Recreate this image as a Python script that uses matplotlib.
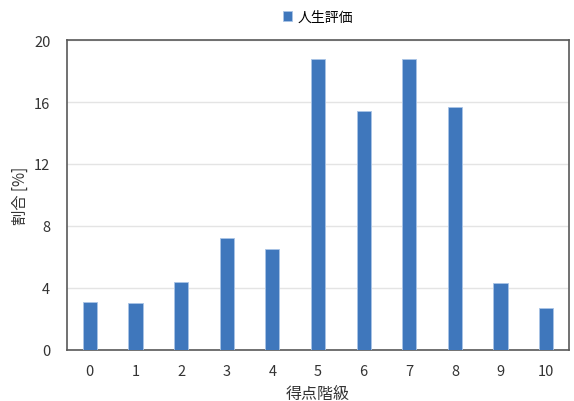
import matplotlib
matplotlib.use("Agg")
import matplotlib.pyplot as plt

plt.rcParams['font.family'] = ['Noto Sans CJK JP', 'DejaVu Sans']

categories = [0, 1, 2, 3, 4, 5, 6, 7, 8, 9, 10]
values = [3.1, 3.0, 4.4, 7.2, 6.5, 18.8, 15.4, 18.8, 15.7, 4.3, 2.7]
series_name = "人生評価"
y_ticks = [0, 4, 8, 12, 16, 20]

fig = plt.figure(figsize=(5.74, 4.02), dpi=100)
ax = fig.add_axes([0.1167, 0.1269, 0.8746, 0.7711])

ax.bar(range(len(categories)), values, width=0.31, color="#3F77BC",
       edgecolor="#A9C4E6", linewidth=0.6, label=series_name, zorder=3)

ax.set_xlim(-0.5, len(categories) - 0.5)
ax.set_ylim(0, 20)
ax.set_yticks(y_ticks)
ax.set_xticks(range(len(categories)))
ax.set_xticklabels([str(c) for c in categories])
ax.yaxis.grid(True, color="#E4E4E4", linewidth=1.0, zorder=0)
ax.set_axisbelow(True)
for s in ax.spines.values():
    s.set_color("#595959")
    s.set_linewidth(1.2)
ax.tick_params(axis='both', length=0, labelsize=10.5, colors="#333333", pad=10)
ax.tick_params(axis='y', pad=12)

ax.set_xlabel("得点階級", fontsize=11.5, color="#333333", labelpad=5)
ax.set_ylabel("割合 [%]", fontsize=11, color="#333333", labelpad=4)

ax.legend(loc="lower center", bbox_to_anchor=(0.5, 1.025), frameon=False,
          fontsize=10, handlelength=0.7, handleheight=0.7, handletextpad=0.4,
          borderaxespad=0.2)

fig.savefig("out.png", dpi=100)
